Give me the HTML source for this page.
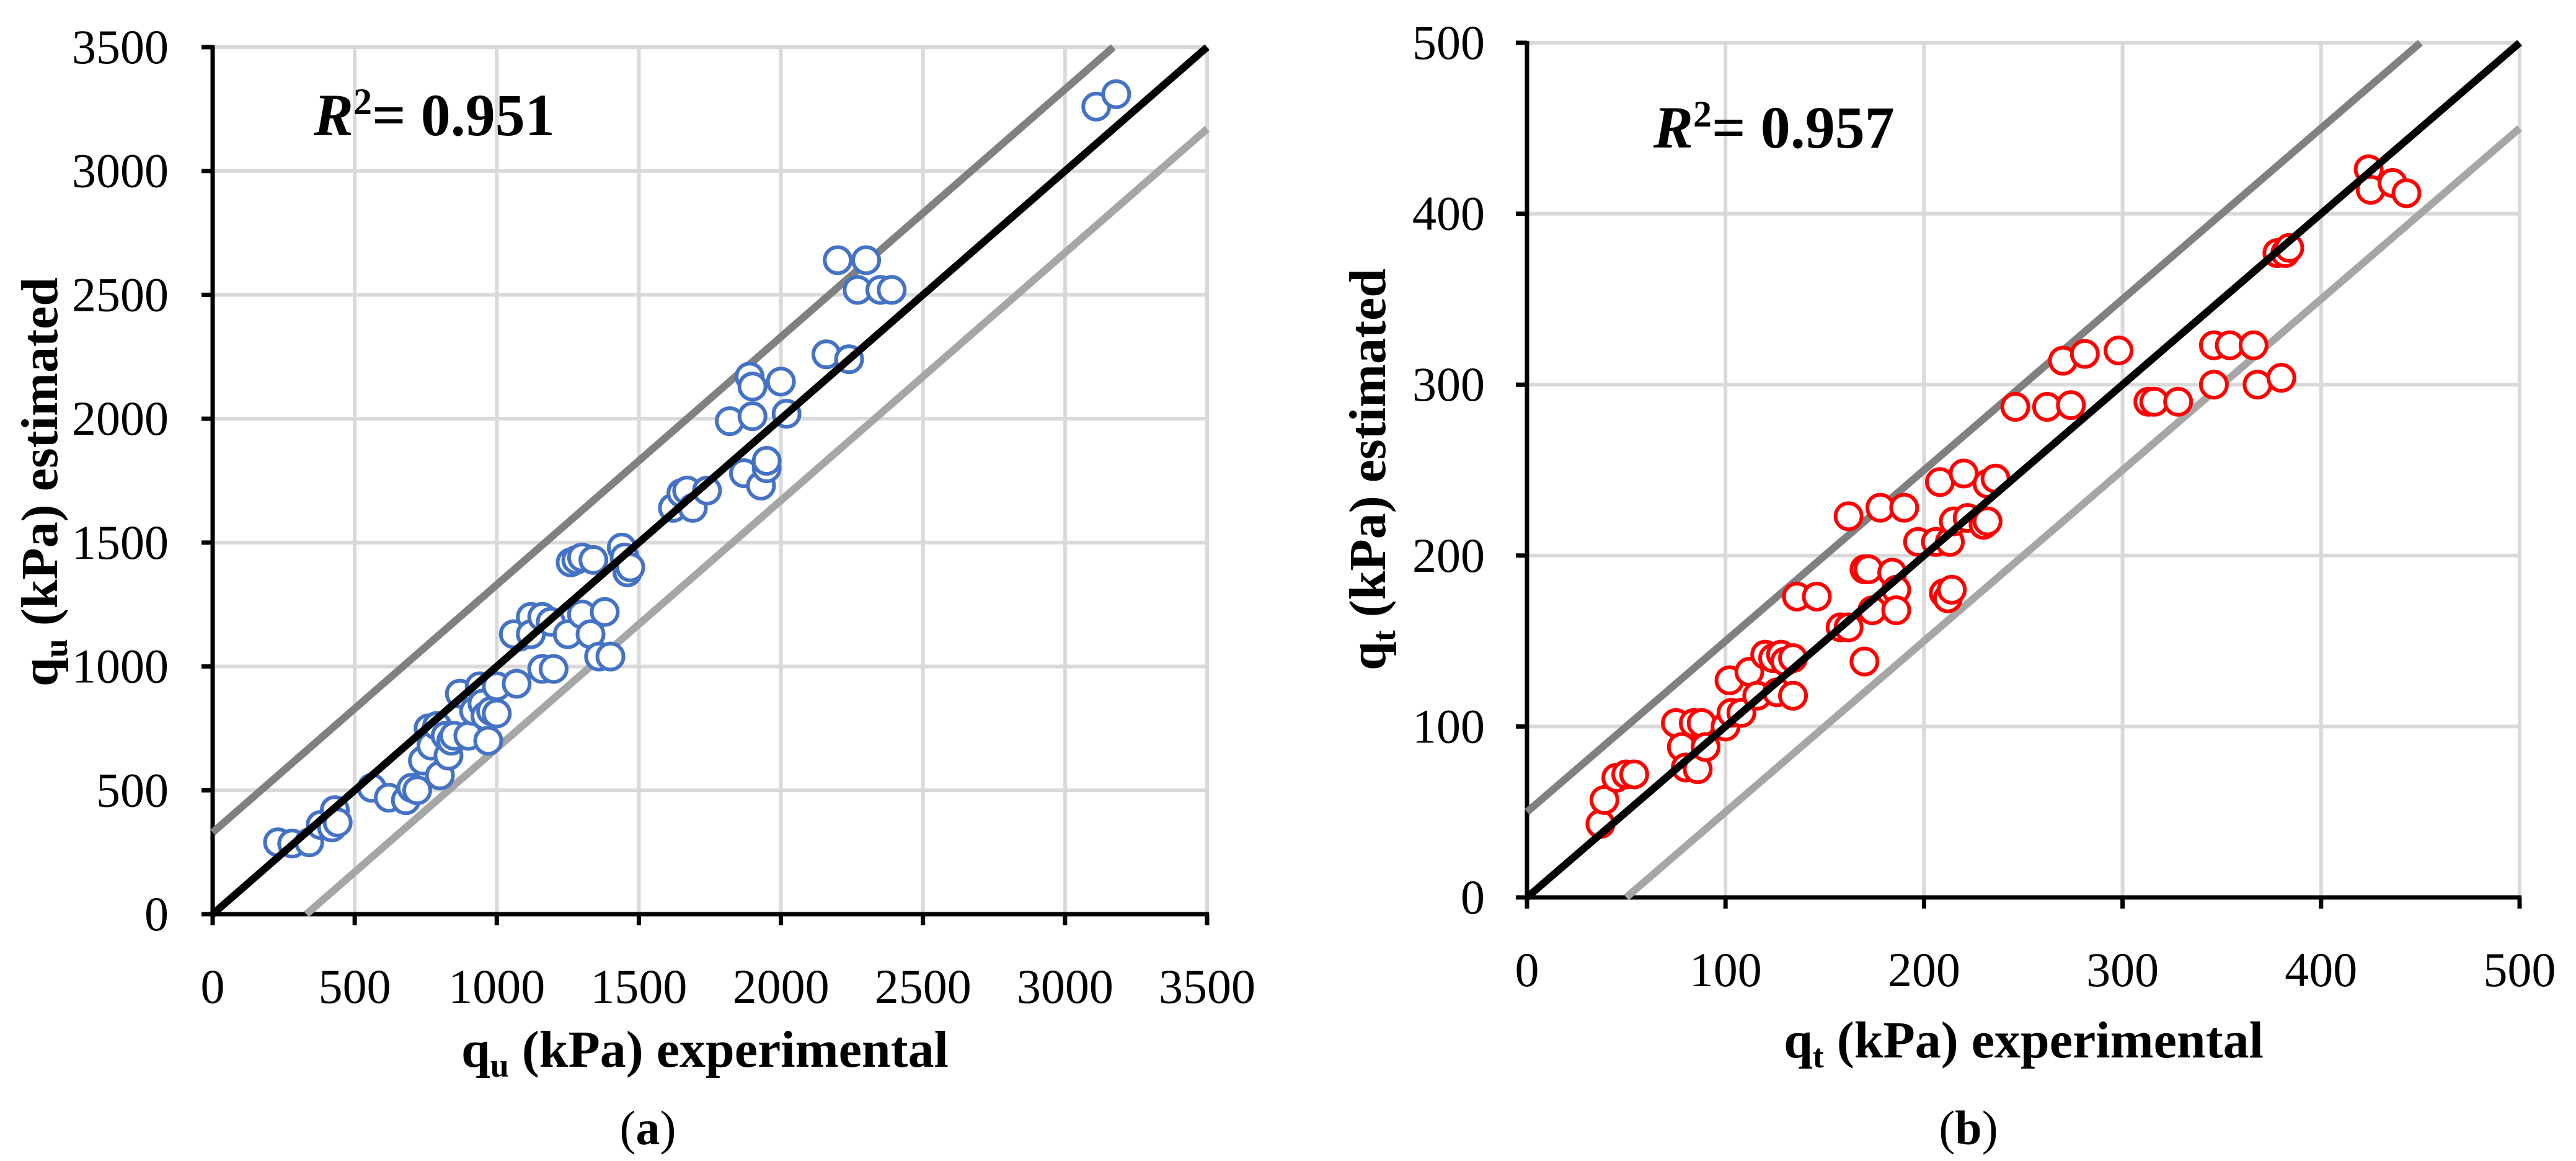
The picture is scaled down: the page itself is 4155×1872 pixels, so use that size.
<!DOCTYPE html>
<html><head><meta charset="utf-8">
<style>
html,body{margin:0;padding:0;background:#fff;}
svg{display:block;font-family:"Liberation Serif",serif;}
</style></head>
<body>
<svg id="fig" width="4155" height="1872" viewBox="0 0 4155 1872" xmlns="http://www.w3.org/2000/svg"></svg>
<script>
// Panel (a) data
const aX = [230,280,340,380,420,430,440,560,620,680,700,720,740,760,770,790,800,820,830,840,850,870,900,920,940,950,960,970,980,1000,1000,1070,1080,1060,1120,1120,1160,1160,1190,1200,1250,1260,1280,1300,1300,1330,1340,1360,1380,1400,1440,1450,1460,1470,1620,1650,1670,1690,1740,1820,1870,1890,1900,1900,1930,1950,1950,2000,2020,2160,2200,2240,2270,2300,2350,2390,3110,3180];
const aY = [290,285,290,360,350,420,370,510,470,460,510,500,620,750,680,760,560,720,640,700,720,890,720,820,920,850,800,700,820,810,920,930,1120,1130,1200,1130,1200,990,1180,990,1130,1420,1430,1210,1440,1130,1430,1040,1220,1040,1480,1440,1380,1400,1640,1700,1710,1640,1710,1990,1780,2170,2130,2010,1730,1800,1830,2150,2020,2260,2640,2240,2520,2640,2520,2520,3260,3310];
const aTicks = [0,500,1000,1500,2000,2500,3000,3500];
// Panel (b) data
const bX = [37,39,45,50,54,75,78,80,84,86,88,90,100,103,102,108,112,116,120,124,126,128,130,134,134,136,146,158,162,162,170,170,172,174,178,184,186,186,190,197,206,208,210,212,213,214,215,220,222,230,232,232,236,246,262,270,274,281,298,313,316,328,346,346,354,366,368,378,380,382,384,424,425,436,443];
const bY = [43,57,70,72,72,102,88,76,102,75,102,88,100,108,127,108,132,118,142,140,120,142,138,140,118,176,176,158,158,223,138,192,192,168,228,190,180,168,228,208,208,243,178,175,208,180,220,248,222,218,242,220,245,287,287,314,288,318,320,290,290,290,323,300,323,323,300,377,304,377,380,426,414,418,412];
const bTicks = [0,100,200,300,400,500];

const NS="http://www.w3.org/2000/svg";
const svg=document.getElementById('fig');
function mk(tag,attrs,parent){const e=document.createElementNS(NS,tag);for(const k in attrs)e.setAttribute(k,attrs[k]);(parent||svg).appendChild(e);return e;}

function panel(cfg){
  const g=mk('g',{});
  
  
  const sx=v=>cfg.x0+(v-0)/cfg.max*(cfg.x1-cfg.x0);
  const sy=v=>cfg.y0-(v-0)/cfg.max*(cfg.y0-cfg.y1);
  cfg.ticks.forEach(t=>{
    if(t>0){
      const gl=mk('line',{x1:sx(t),x2:sx(t),y1:cfg.y0,y2:cfg.y1,stroke:'#d9d9d9','stroke-width':6},g);
      
      
      const hl=mk('line',{x1:cfg.x0,x2:cfg.x1,y1:sy(t),y2:sy(t),stroke:'#d9d9d9','stroke-width':6},g);
      
      
    }
  });
  const ax=mk('line',{x1:cfg.x0-18,x2:cfg.x1+3,y1:cfg.y0,y2:cfg.y0,stroke:'#000','stroke-width':7},g);
  
  
  const ay=mk('line',{x1:cfg.x0,x2:cfg.x0,y1:cfg.y0+18,y2:cfg.y1-3,stroke:'#000','stroke-width':7},g);
  
  
  cfg.ticks.forEach(t=>{
    const tk=mk('line',{x1:sx(t),x2:sx(t),y1:cfg.y0,y2:cfg.y0+18,stroke:'#000','stroke-width':7},g);
    
    
    const tk2=mk('line',{x1:cfg.x0-18,x2:cfg.x0,y1:sy(t),y2:sy(t),stroke:'#000','stroke-width':7},g);
    
    
    const xl=mk('text',{x:sx(t),y:cfg.y0+143,'font-size':78,'text-anchor':'middle'},g);
    xl.textContent=t;
    
    
    const yl=mk('text',{x:cfg.ylabX,y:sy(t)+26,'font-size':78,'text-anchor':'end'},g);
    yl.textContent=t;
    
    
  });
  const off=cfg.off, m=cfg.max;
  const up=mk('line',{x1:sx(0),y1:sy(off),x2:sx(m-off),y2:sy(m),stroke:'#808080','stroke-width':12},g);
  
  
  const lo=mk('line',{x1:sx(off),y1:sy(0),x2:sx(m),y2:sy(m-off),stroke:'#a6a6a6','stroke-width':12},g);
  
  
  cfg.xs.forEach((v,i)=>{
    const c=mk('circle',{cx:sx(v),cy:sy(cfg.ys[i]),r:21,fill:'#fff',stroke:cfg.color,'stroke-width':6},g);
    
    
  });
  const id=mk('line',{x1:sx(0),y1:sy(0),x2:sx(m),y2:sy(m),stroke:'#000','stroke-width':12},g);
  
  
  const r=mk('text',{x:cfg.rx,y:cfg.ry,'font-size':96,'font-weight':'bold'},g);
  r.innerHTML='<tspan font-style="italic">R</tspan><tspan font-size="60" dy="-34">2</tspan><tspan dy="34">= '+cfg.r2+'</tspan>';
  
  
  const xt=mk('text',{x:cfg.xtX,y:cfg.xtY,'font-size':84,'font-weight':'bold','text-anchor':'middle'},g);
  xt.innerHTML='q<tspan font-size="54" dy="16">'+cfg.sub+'</tspan><tspan dy="-16"> (kPa) experimental</tspan>';
  
  
  const yt=mk('text',{x:0,y:0,'font-size':84,'font-weight':'bold','text-anchor':'middle',transform:'translate('+cfg.ytX+','+cfg.ytY+') rotate(-90)'},g);
  yt.innerHTML='q<tspan font-size="54" dy="16">'+cfg.sub+'</tspan><tspan dy="-16"> (kPa) estimated</tspan>';
  
  
  const cap=mk('text',{x:cfg.capX,y:1845,'font-size':78,'text-anchor':'middle'},g);
  cap.innerHTML='(<tspan font-weight="bold">'+cfg.cap+'</tspan>)';
  
  
}
panel({name:'panel-a',x0:343,x1:1947,y0:1474,y1:76,max:3500,off:330,ticks:aTicks,xs:aX,ys:aY,color:'#4472c4',rx:506,ry:218,r2:'0.951',sub:'u',xtX:1137,xtY:1720,ytX:92,ytY:777,ylabX:272,capX:1045,cap:'a'});
panel({name:'panel-b',x0:2463,x1:4064,y0:1447,y1:69,max:500,off:50,ticks:bTicks,xs:bX,ys:bY,color:'#ff0000',rx:2667,ry:238,r2:'0.957',sub:'t',xtX:3264,xtY:1705,ytX:2234,ytY:757,ylabX:2395,capX:3175,cap:'b'});
</script>
</body></html>
